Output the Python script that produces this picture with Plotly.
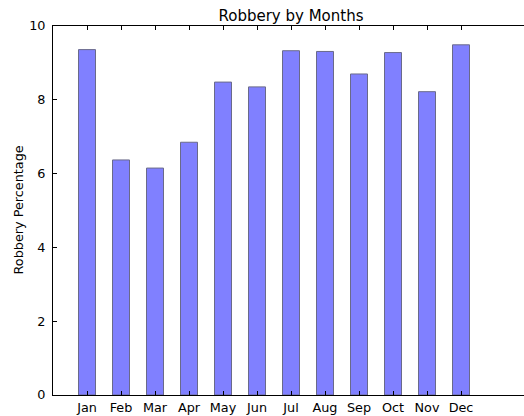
import plotly.graph_objects as go

months = ["Jan", "Feb", "Mar", "Apr", "May", "Jun", "Jul", "Aug", "Sep", "Oct", "Nov", "Dec"]
positions = [1, 2, 3, 4, 5, 6, 7, 8, 9, 10, 11, 12]
robbery_pct = [9.36, 6.37, 6.15, 6.85, 8.48, 8.35, 9.33, 9.31, 8.70, 9.28, 8.22, 9.49]
y_ticks = [0, 2, 4, 6, 8, 10]

W, H = 524, 416
L, R, T, B = 53, 0, 26, 21

fig = go.Figure(go.Bar(
    x=positions, y=robbery_pct, width=0.5,
    marker=dict(color="#8080ff", line=dict(color="#6a6a8a", width=1)),
))

font = dict(family="DejaVu Sans", size=12.8, color="black")
fig.update_layout(
    width=W, height=H,
    margin=dict(l=L, r=R, t=T, b=B),
    plot_bgcolor="white", paper_bgcolor="white",
    showlegend=False,
    font=font,
    title=dict(text="Robbery by Months", x=291 / W, xref="container", xanchor="center",
               y=1 - 15.5 / H, yref="container", yanchor="middle",
               font=dict(family="DejaVu Sans", size=15, color="black")),
    xaxis=dict(range=[0, (W - L) / 34.0], tickvals=positions, ticktext=months,
               ticks="inside", ticklen=4, tickcolor="black", showline=True, linecolor="black",
               linewidth=1, mirror="ticks", showgrid=False, zeroline=False,
               ticklabelstandoff=1, tickfont=font),
    yaxis=dict(range=[0, 10], tickvals=y_ticks, ticks="inside", ticklen=4, tickcolor="black",
               showline=True, linecolor="black", linewidth=1, showgrid=False, zeroline=False,
               ticklabelstandoff=4, tickfont=font),
    annotations=[dict(text="Robbery Percentage", textangle=-90, xref="paper", yref="paper",
                      x=(18 - L) / (W - L - R), y=0.5, xanchor="center", yanchor="middle",
                      showarrow=False, font=font)],
)

fig.write_html("out.html", config={"displayModeBar": False},
               post_script="document.body.style.margin='0';")
